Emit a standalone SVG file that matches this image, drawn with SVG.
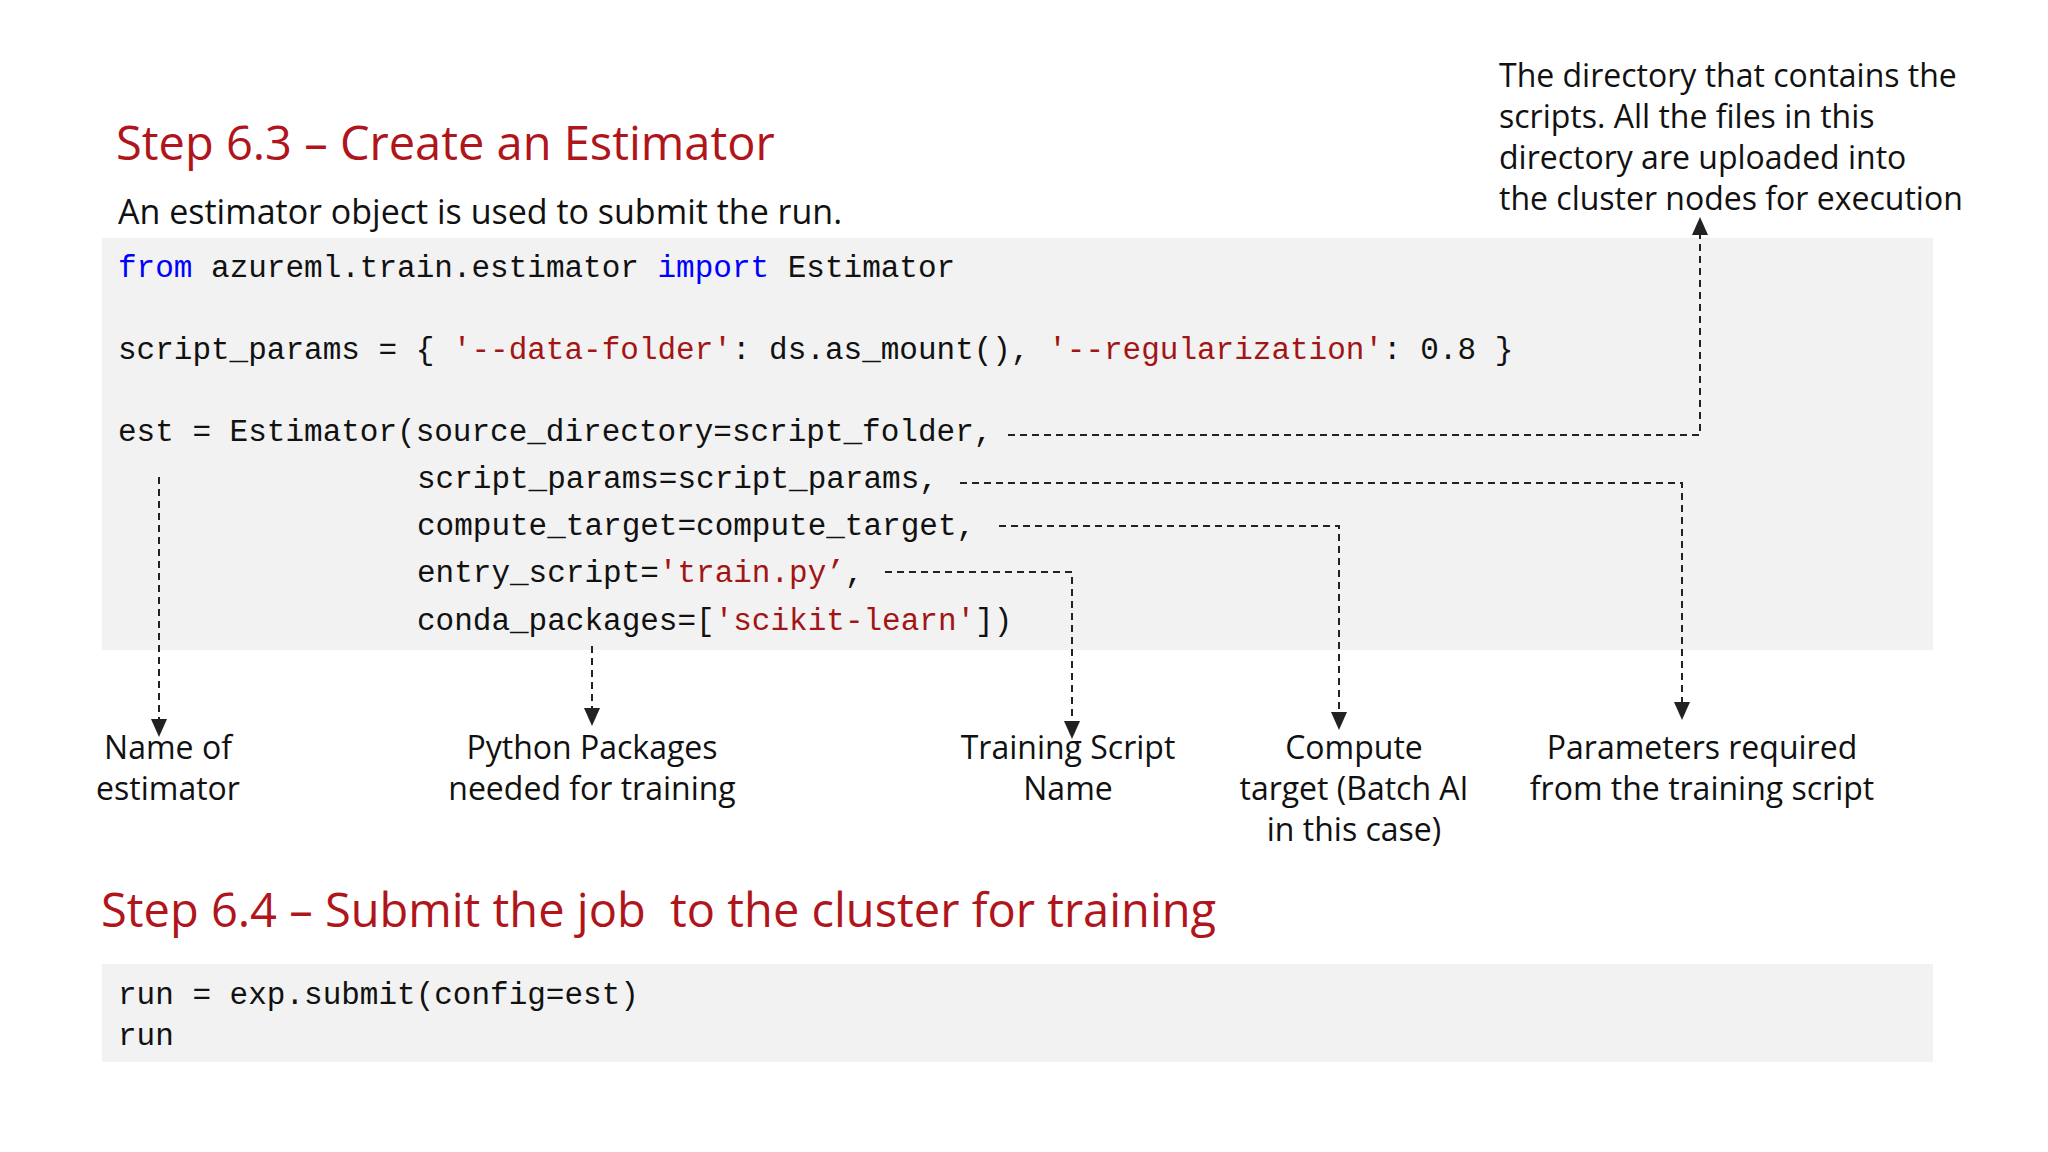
<svg xmlns="http://www.w3.org/2000/svg" width="2048" height="1152" viewBox="0 0 2048 1152">
<style>
.t{font-family:"Open Sans","Noto Sans",sans-serif;fill:#111}
.h{font-family:"Open Sans","Noto Sans",sans-serif;fill:#b0151b;font-size:47px}
.c{font-family:"Liberation Mono","DejaVu Sans Mono",monospace;font-size:31px;fill:#111;white-space:pre}
.k{fill:#0000ff}.s{fill:#a31515}
.l{font-size:32px;text-anchor:middle}
.d{fill:none;stroke:#222;stroke-width:2;stroke-dasharray:7 5}
</style>
<defs><marker id="a" markerWidth="10" markerHeight="10" refX="5" refY="5" orient="auto"><path d="M0,1 L9,5 L0,9z" fill="#222"/></marker></defs>
<rect width="2048" height="1152" fill="#fff"/>
<g id="title1"><text class="h" x="116" y="160">Step 6.3 – Create an Estimator</text></g>
<g id="sub"><text class="t" x="118" y="224" font-size="34">An estimator object is used to submit the run.</text></g>
<g id="code1">
<rect x="102" y="238" width="1831" height="412" fill="#f2f2f2"/>
<text class="c" x="118" y="277"><tspan class="k">from</tspan> azureml.train.estimator <tspan class="k">import</tspan> Estimator</text>
<text class="c" x="118" y="359">script_params = { <tspan class="s">'--data-folder'</tspan>: ds.as_mount(), <tspan class="s">'--regularization'</tspan>: 0.8 }</text>
<text class="c" x="118" y="441">est = Estimator(source_directory=script_folder,</text>
<text class="c" x="417" y="488">script_params=script_params,</text>
<text class="c" x="417" y="535">compute_target=compute_target,</text>
<text class="c" x="417" y="582">entry_script=<tspan class="s">'train.py’</tspan>,</text>
<text class="c" x="417" y="630">conda_packages=[<tspan class="s">'scikit-learn'</tspan>])</text>
</g>
<g id="note"><text class="t" font-size="32"><tspan x="1499" y="87">The directory that contains the</tspan><tspan x="1499" y="128">scripts. All the files in this</tspan><tspan x="1499" y="169">directory are uploaded into</tspan><tspan x="1499" y="210">the cluster nodes for execution</tspan></text></g>
<g id="connectors">
<path class="d" d="M1008,435 H1700 V225" marker-end="url(#a)"/>
<path class="d" d="M960,483 H1682 V712" marker-end="url(#a)"/>
<path class="d" d="M999,526 H1339 V722" marker-end="url(#a)"/>
<path class="d" d="M885,572 H1072 V731" marker-end="url(#a)"/>
<path class="d" d="M159,477 V729" marker-end="url(#a)"/>
<path class="d" d="M592,646 V718" marker-end="url(#a)"/>
</g>
<g id="n1"><text class="t l"><tspan x="168" y="759">Name of</tspan><tspan x="168" y="800">estimator</tspan></text></g>
<g id="n2"><text class="t l"><tspan x="592" y="759">Python Packages</tspan><tspan x="592" y="800">needed for training</tspan></text></g>
<g id="n3"><text class="t l"><tspan x="1068" y="759">Training Script</tspan><tspan x="1068" y="800">Name</tspan></text></g>
<g id="n4"><text class="t l"><tspan x="1354" y="759">Compute</tspan><tspan x="1354" y="800">target (Batch AI</tspan><tspan x="1354" y="841">in this case)</tspan></text></g>
<g id="n5"><text class="t l"><tspan x="1702" y="759">Parameters required</tspan><tspan x="1702" y="800">from the training script</tspan></text></g>
<g id="title2"><text class="h" x="101" y="927" xml:space="preserve">Step 6.4 – Submit the job  to the cluster for training</text></g>
<g id="code2">
<rect x="102" y="964" width="1831" height="98" fill="#f2f2f2"/>
<text class="c" x="118" y="1004">run = exp.submit(config=est)</text>
<text class="c" x="118" y="1045">run</text>
</g>
</svg>
